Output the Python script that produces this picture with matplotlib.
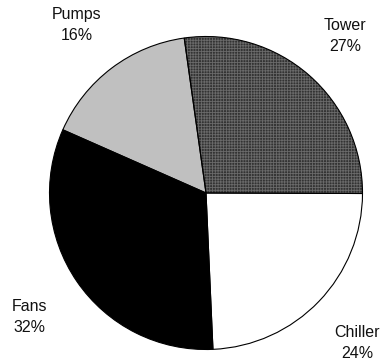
import matplotlib.pyplot as plt

plt.rcParams["font.family"] = ["Liberation Sans", "DejaVu Sans"]
plt.rcParams["hatch.linewidth"] = 0.6

# energy share by component, clockwise from the top
labels = ["Tower", "Chiller", "Fans", "Pumps"]
shares = [27, 24, 32, 16]

colors = ["#333333", "white", "black", "#c0c0c0"]
hatches = ["++++++", "", "", ""]
# label positions (data units, pie radius = 1)
label_xy = [(0.888, 1.003), (0.965, -0.958), (-1.125, -0.792), (-0.824, 1.073)]

fig = plt.figure(figsize=(3.85, 3.62), dpi=100)
ax = fig.add_axes([0, 0, 1, 1])

# fills with a grey hatch, then a second pass for the black outlines
wedges, _ = ax.pie(shares, colors=colors, startangle=98, counterclock=False,
                   wedgeprops=dict(edgecolor="#6a6a6a", linewidth=0))
for w, h in zip(wedges, hatches):
    w.set_hatch(h)
ax.pie(shares, colors=["none"] * 4, startangle=98, counterclock=False,
       wedgeprops=dict(edgecolor="black", linewidth=0.8, fill=False))

for name, val, (x, y) in zip(labels, shares, label_xy):
    ax.text(x, y, f"{name}\n{val}%", ha="center", va="center",
            fontsize=11.5, linespacing=1.55, color="#111111")

ax.set_xlim(-206 / 156.5, (385 - 206) / 156.5)
ax.set_ylim(-(362 - 193) / 156.5, 193 / 156.5)
ax.set_aspect("auto")
ax.axis("off")

fig.savefig("out.png", dpi=100)
